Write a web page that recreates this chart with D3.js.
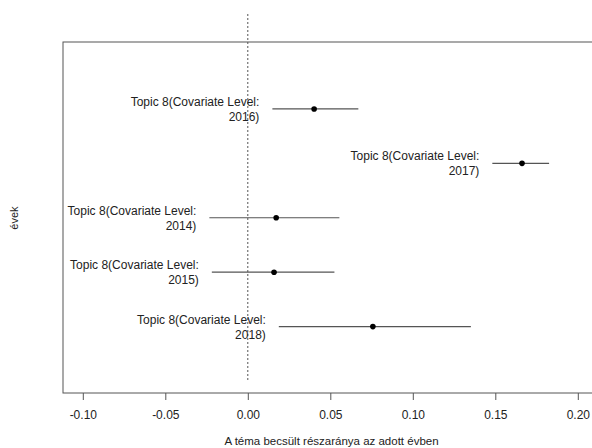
<!DOCTYPE html>
<html>
<head>
<meta charset="utf-8">
<script src="https://cdn.jsdelivr.net/npm/d3@7"></script>
<style>
  body { margin: 0; background: #fff; }
  svg { display: block; font-family: "Liberation Sans", Arial, sans-serif; }
</style>
</head>
<body>
<svg width="592" height="448"></svg>
<script>
// rows, top to bottom as in the plot
var levels = ["2016", "2017", "2014", "2015", "2018"];
var estimates = [0.0402, 0.1662, 0.0172, 0.0159, 0.0758];
var lower = [0.0149, 0.1482, -0.0233, -0.0218, 0.0188];
var upper = [0.0670, 0.1826, 0.0555, 0.0525, 0.1352];
var xTicks = [-0.10, -0.05, 0.00, 0.05, 0.10, 0.15, 0.20];
var topicLabel = "Topic 8(Covariate Level:";
var xTitle = "A téma becsült részaránya az adott évben";
var yTitle = "évek";

var svg = d3.select("svg");
var boxL = 63, boxR = 600, boxT = 42, boxB = 393;

var x = d3.scaleLinear().domain([-0.1, 0.2]).range([82.8, 577.8]);
var y = d3.scaleLinear().domain([-1.23, 5.22]).range([boxT, boxB]);

var data = levels.map(function(l, i) {
    return { level: l, est: estimates[i], lo: lower[i], hi: upper[i], pos: i };
});

// box
svg.append("rect")
    .attr("x", boxL).attr("y", boxT)
    .attr("width", boxR - boxL).attr("height", boxB - boxT)
    .attr("fill", "none").attr("stroke", "#555").attr("stroke-width", 1);

// zero line
svg.append("line")
    .attr("x1", x(0)).attr("x2", x(0))
    .attr("y1", 14).attr("y2", 381)
    .attr("stroke", "#555").attr("stroke-dasharray", "2,2");

// x axis
var fmt = d3.format(".2f");
var axis = svg.append("g")
    .attr("transform", "translate(0," + boxB + ")")
    .call(d3.axisBottom(x).tickValues(xTicks)
        .tickFormat(function(d) { return fmt(d).replace("\u2212", "-"); })
        .tickSize(7).tickPadding(10));
axis.select(".domain").remove();
axis.selectAll("line").attr("stroke", "#555");
axis.selectAll("text").attr("font-size", "12px").attr("fill", "#222")
    .attr("font-family", "Liberation Sans, Arial, sans-serif");

// CI lines
svg.selectAll(".ci")
    .data(data)
    .enter().append("line")
    .attr("class", "ci")
    .attr("x1", function(d) { return x(d.lo); })
    .attr("x2", function(d) { return x(d.hi); })
    .attr("y1", function(d) { return y(d.pos); })
    .attr("y2", function(d) { return y(d.pos); })
    .attr("stroke", "#555").attr("stroke-width", 1.2);

// points
svg.selectAll(".pt")
    .data(data)
    .enter().append("circle")
    .attr("class", "pt")
    .attr("cx", function(d) { return x(d.est); })
    .attr("cy", function(d) { return y(d.pos); })
    .attr("r", 2.8)
    .attr("fill", "#000");

// labels
var lab = svg.selectAll(".lab")
    .data(data)
    .enter().append("text")
    .attr("class", "lab")
    .attr("text-anchor", "end")
    .attr("font-size", "12px")
    .attr("fill", "#222");
lab.append("tspan")
    .attr("x", function(d) { return x(d.lo) - 13; })
    .attr("y", function(d) { return y(d.pos) - 3; })
    .text(topicLabel);
lab.append("tspan")
    .attr("x", function(d) { return x(d.lo) - 13; })
    .attr("y", function(d) { return y(d.pos) + 12; })
    .text(function(d) { return d.level + ")"; });

// titles
svg.append("text")
    .attr("x", (boxL + boxR) / 2).attr("y", 445)
    .attr("text-anchor", "middle").attr("font-size", "11.5px").attr("fill", "#222")
    .text(xTitle);

svg.append("text")
    .attr("transform", "translate(18,218) rotate(-90)")
    .attr("text-anchor", "middle").attr("font-size", "11px").attr("fill", "#222")
    .text(yTitle);
</script>
</body>
</html>
